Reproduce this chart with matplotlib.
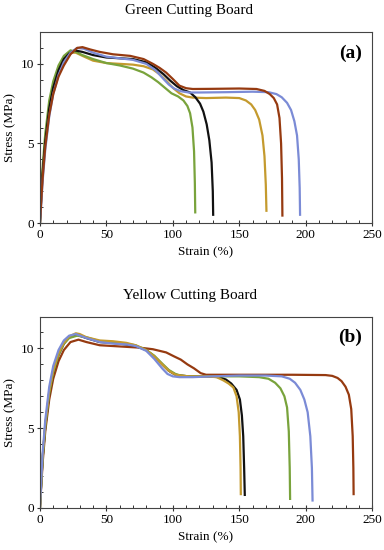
#!/usr/bin/env python3
"""
Stress-strain curves for green and yellow cutting boards, two stacked panels.
"""

import matplotlib

matplotlib.use("Agg")
import matplotlib.pyplot as plt
from matplotlib.ticker import MultipleLocator

plt.rcParams["font.family"] = ["Liberation Serif", "DejaVu Serif"]

COLORS = {
    "gold": "#c49a2e",
    "green": "#79a33c",
    "black": "#111111",
    "blue": "#7b8bd6",
    "brown": "#963a10",
}

# ---- panel (a): green cutting board ----
a_gold_strain = [0, 1, 2, 4, 7, 10, 14, 18, 23, 27, 32, 40, 50, 60, 70, 78, 85, 90, 95, 100, 105, 110,
                 115, 125, 140, 150, 155, 159, 162, 165, 167.5, 169, 170, 170.5]
a_gold_stress = [0, 1.7, 3.2, 5.2, 7.3, 8.6, 9.7, 10.35, 10.7, 10.7, 10.5, 10.2, 10.05, 10.0, 9.95, 9.85,
                 9.65, 9.35, 8.95, 8.5, 8.15, 7.95, 7.88, 7.85, 7.88, 7.85, 7.7, 7.45, 7.1, 6.5, 5.5, 4.2,
                 2.4, 0.7]

a_green_strain = [0, 1, 2, 4, 7, 10, 14, 18, 23, 27, 32, 40, 50, 60, 70, 78, 84, 89, 94, 99, 104, 108,
                  111, 113, 114.8, 116, 116.6, 116.9]
a_green_stress = [0, 1.9, 3.5, 5.6, 7.7, 8.9, 9.9, 10.5, 10.85, 10.75, 10.55, 10.3, 10.05, 9.9, 9.7,
                  9.45, 9.15, 8.85, 8.5, 8.15, 7.95, 7.7, 7.35, 6.9, 6.0, 4.5, 2.5, 0.6]

a_black_strain = [0, 1, 2, 4, 7, 10, 14, 18, 22, 26, 32, 40, 50, 60, 70, 80, 87, 93, 98, 103, 108, 113,
                  117, 120.5, 123, 125.5, 127.5, 129.2, 130.1, 130.4]
a_black_stress = [0, 1.6, 3.1, 5.1, 7.2, 8.5, 9.6, 10.3, 10.65, 10.85, 10.75, 10.55, 10.4, 10.35, 10.3,
                  10.1, 9.75, 9.35, 8.95, 8.6, 8.35, 8.2, 7.9, 7.5, 7.0, 6.2, 5.2, 3.8, 2.0, 0.45]

a_blue_strain = [0, 1, 2, 4, 7, 10, 14, 18, 23, 28, 33, 40, 50, 60, 70, 80, 87, 93, 97, 101, 106, 112,
                 120, 140, 160, 172, 178, 182, 186, 189, 191.5, 193.5, 194.8, 195.5, 195.8]
a_blue_stress = [0, 1.2, 2.6, 4.6, 6.7, 8.1, 9.3, 10.1, 10.7, 11.0, 10.95, 10.7, 10.45, 10.35, 10.25,
                 10.0, 9.6, 9.05, 8.7, 8.45, 8.28, 8.2, 8.2, 8.22, 8.25, 8.22, 8.1, 7.9, 7.55, 7.1, 6.4,
                 5.5, 4.0, 2.2, 0.45]

a_brown_strain = [0, 1, 2, 4, 7, 10, 14, 18, 23, 28, 32, 38, 45, 55, 68, 78, 85, 90, 95, 100, 105, 110,
                  115, 130, 150, 163, 169, 173, 176, 178.5, 180.3, 181.5, 182.2, 182.5]
a_brown_stress = [0, 1.4, 2.8, 4.8, 6.8, 8.1, 9.2, 9.9, 10.6, 11.0, 11.05, 10.9, 10.75, 10.6, 10.5,
                  10.3, 10.0, 9.75, 9.45, 9.05, 8.63, 8.47, 8.42, 8.43, 8.45, 8.42, 8.3, 8.1, 7.85, 7.45,
                  6.6, 5.0, 2.8, 0.4]

# ---- panel (b): yellow cutting board ----
b_gold_strain = [0, 1, 2, 4, 7, 10, 14, 18, 22, 27, 30, 35, 45, 55, 65, 72, 80, 86, 92, 97, 102, 106,
                 112, 125, 133, 138, 142, 145.6, 148, 149.6, 150.5, 151, 151.2]
b_gold_stress = [0, 1.7, 3.2, 5.2, 7.3, 8.6, 9.7, 10.35, 10.75, 10.95, 10.9, 10.7, 10.5, 10.45, 10.35,
                 10.2, 9.9, 9.5, 9.0, 8.6, 8.35, 8.3, 8.25, 8.25, 8.2, 8.0, 7.8, 7.55, 7.0, 6.0, 4.5,
                 2.5, 0.8]

b_black_strain = [0, 1, 2, 4, 7, 10, 14, 18, 22, 28, 35, 45, 55, 65, 72, 80, 86, 92, 97, 102, 106, 112,
                  125, 135, 140, 144, 148, 150.5, 152, 153, 153.7, 154.2]
b_black_stress = [0, 1.6, 3.1, 5.1, 7.2, 8.5, 9.6, 10.3, 10.7, 10.85, 10.65, 10.4, 10.35, 10.25, 10.15,
                  9.9, 9.5, 9.0, 8.6, 8.35, 8.3, 8.25, 8.25, 8.2, 8.05, 7.8, 7.4, 6.8, 5.8, 4.5, 2.5, 0.75]

b_green_strain = [0, 1, 2, 4, 7, 10, 14, 18, 22, 28, 35, 45, 55, 65, 72, 80, 86, 92, 97, 102, 106, 112,
                  130, 150, 165, 172, 177, 181, 184, 186, 187.3, 188, 188.3]
b_green_stress = [0, 1.6, 3.1, 5.1, 7.2, 8.5, 9.6, 10.3, 10.65, 10.8, 10.7, 10.45, 10.4, 10.3, 10.2,
                  9.9, 9.55, 9.05, 8.65, 8.4, 8.3, 8.25, 8.25, 8.25, 8.2, 8.1, 7.85, 7.5, 7.0, 6.3, 4.8,
                  2.5, 0.5]

b_blue_strain = [0, 1, 2, 4, 7, 10, 14, 18, 22, 27, 35, 45, 55, 65, 72, 80, 86, 92, 96, 100, 105, 115,
                 130, 150, 170, 182, 188, 192, 196, 199, 201.5, 203.5, 204.7, 205.2]
b_blue_stress = [0, 1.8, 3.4, 5.5, 7.6, 8.9, 9.9, 10.5, 10.8, 10.9, 10.65, 10.4, 10.3, 10.25, 10.15,
                 9.85, 9.35, 8.75, 8.4, 8.25, 8.2, 8.2, 8.25, 8.3, 8.3, 8.25, 8.1, 7.85, 7.4, 6.8, 6.0,
                 4.5, 2.5, 0.4]

b_brown_strain = [0, 1, 2, 4, 7, 10, 14, 18, 23, 29, 35, 45, 55, 65, 75, 85, 95, 101, 106, 111, 116,
                  121, 125, 135, 160, 190, 215, 220, 224, 227, 230, 232.5, 234.3, 235.4, 235.9, 236.1]
b_brown_stress = [0, 1.4, 2.8, 4.8, 6.8, 8.1, 9.2, 9.9, 10.4, 10.55, 10.4, 10.2, 10.15, 10.1, 10.05,
                  9.95, 9.75, 9.5, 9.3, 9.0, 8.75, 8.45, 8.35, 8.35, 8.35, 8.35, 8.33, 8.28, 8.15, 7.95,
                  7.6, 7.1, 6.2, 4.5, 2.5, 0.8]

PANEL_A = [
    (a_gold_strain, a_gold_stress, "gold"),
    (a_green_strain, a_green_stress, "green"),
    (a_black_strain, a_black_stress, "black"),
    (a_blue_strain, a_blue_stress, "blue"),
    (a_brown_strain, a_brown_stress, "brown"),
]
PANEL_B = [
    (b_brown_strain, b_brown_stress, "brown"),
    (b_black_strain, b_black_stress, "black"),
    (b_green_strain, b_green_stress, "green"),
    (b_gold_strain, b_gold_stress, "gold"),
    (b_blue_strain, b_blue_stress, "blue"),
]


def draw_panel(ax, curves, tag):
    for strain, stress, key in curves:
        ax.plot(strain, stress, color=COLORS[key], lw=1.6, solid_capstyle="butt")

    ax.set_xlim(0, 250)
    ax.set_ylim(0, 12)
    ax.xaxis.set_major_locator(MultipleLocator(50))
    ax.xaxis.set_minor_locator(MultipleLocator(10))
    ax.yaxis.set_major_locator(MultipleLocator(5))
    ax.yaxis.set_minor_locator(MultipleLocator(1))
    ax.tick_params(which="major", direction="inout", length=4.5, width=0.8,
                   labelsize=9.5, color="#333333", pad=2)
    ax.tick_params(which="minor", direction="in", length=2.5, width=0.7, color="#333333")
    for sp in ax.spines.values():
        sp.set_color("#444444")
        sp.set_linewidth(0.8)

    ax.set_xlabel("Strain (%)", fontsize=9.5, labelpad=4)
    ax.set_ylabel("Stress (MPa)", fontsize=9.5, labelpad=3)
    ax.text(0.934, 0.89, tag, transform=ax.transAxes, ha="center", va="center",
            fontsize=14, fontweight="bold")


def main():
    fig = plt.figure(figsize=(3.84, 5.5), dpi=100)
    ax_a = fig.add_axes([0.104, 0.5945, 0.865, 0.3473])
    ax_b = fig.add_axes([0.104, 0.0764, 0.865, 0.3481])

    draw_panel(ax_a, PANEL_A, "(a)")
    draw_panel(ax_b, PANEL_B, "(b)")

    fig.text(0.493, 0.981, "Green Cutting Board", ha="center", va="center", fontsize=11)
    fig.text(0.495, 0.463, "Yellow Cutting Board", ha="center", va="center", fontsize=11)

    fig.savefig("out.png", dpi=100)
    plt.close(fig)


if __name__ == "__main__":
    main()
